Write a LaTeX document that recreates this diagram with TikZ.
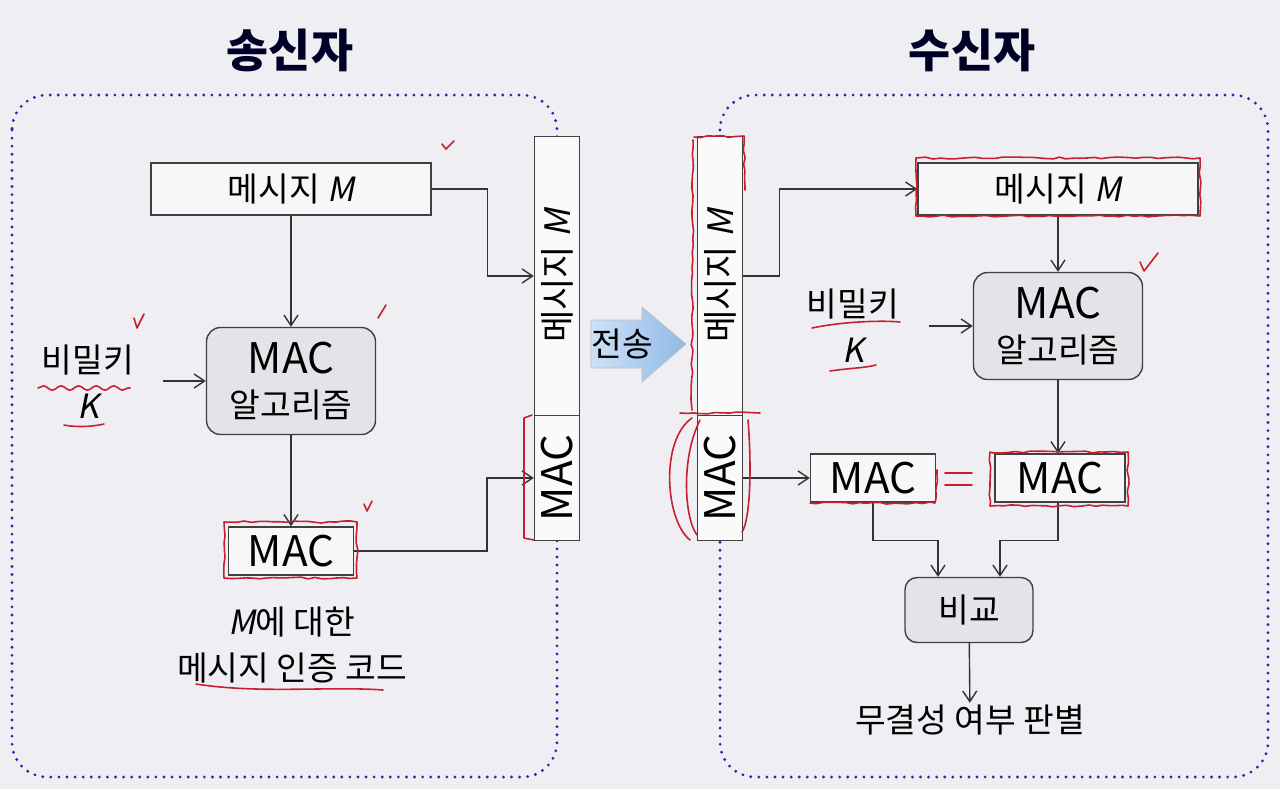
\documentclass[tikz,border=0pt]{standalone}
\usepackage{fontspec}
\setmainfont{Noto Sans CJK KR}[ItalicFont={Noto Sans CJK KR}, ItalicFeatures={FakeSlant=0.2}]
\usetikzlibrary{arrows.meta, decorations.pathmorphing}

\definecolor{bgpaper}{RGB}{238,238,243}
\definecolor{dotblue}{RGB}{40,40,170}
\definecolor{boxgray}{RGB}{227,227,232}
\definecolor{inkred}{RGB}{200,30,45}
\definecolor{sendA}{RGB}{205,225,246}
\definecolor{sendB}{RGB}{145,185,230}

\newcommand{\mac}{{\fontsize{24}{25}\selectfont MAC}}

\tikzset{
  conn/.style={draw=black!80, line width=0.8pt, -{Straight Barb[length=6pt, width=8pt]}},
  msgbox/.style={draw=black!75, line width=0.8pt, fill=white!55!bgpaper, minimum width=5.6cm, minimum height=1.04cm, font=\fontsize{19}{23}\selectfont, inner sep=0pt},
  algbox/.style={draw=black!75, line width=0.8pt, fill=boxgray, rounded corners=0.28cm, minimum width=3.38cm, minimum height=2.14cm, align=center, font=\fontsize{19}{25}\selectfont},
  macbox/.style={msgbox, minimum width=2.5cm, minimum height=0.96cm},
  barpart/.style={draw=black!75, line width=0.8pt, fill=white!70!bgpaper, rotate=90, minimum height=0.9cm, inner sep=0pt, font=\fontsize{20}{23}\selectfont},
  txt/.style={align=center, font=\fontsize{19}{26}\selectfont, inner sep=1pt},
  title/.style={font=\fontsize{26}{30}\selectfont\bfseries, text=black!85!blue},
  region/.style={draw=dotblue, line width=1.8pt, dash pattern=on 0pt off 4.6pt, line cap=round, rounded corners=0.7cm},
  redmark/.style={draw=inkred, line width=0.9pt, line cap=round, line join=round},
  rough/.style={redmark, decorate, decoration={random steps, segment length=4pt, amplitude=0.6pt}},
}

\begin{document}
\begin{tikzpicture}[x=0.02cm, y=-0.02cm]
\fill[bgpaper] (0,0) rectangle (1280,789);
\useasboundingbox (0,0) rectangle (1280,789);

% 제목
\node[title] (stitle) at (290,50) {송신자};
\node[title] (rtitle) at (972,50) {수신자};

% 점선 영역
\draw[region] (12,95) rectangle (557,777);
\draw[region] (720,95) rectangle (1268,777);

% 송신자
\node[msgbox] (smsg) at (291,189) {메시지 \textit{M}};
\node[algbox] (salg) at (291,381) {\mac\\알고리즘};
\node[macbox] (smac) at (291,551) {\mac};
\node[txt] (skey) at (88,382) {비밀키\\\textit{K}};
\node[txt] (scap) at (292,645) {\textit{M}에 대한\\메시지 인증 코드};

\node[barpart, minimum width=5.58cm] (sbarm) at (557,276) {메시지 \textit{M}};
\node[barpart, minimum width=2.5cm] (sbarc) at (557,478) {\mac};

\draw[conn] (smsg) -- (salg);
\draw[conn] (salg) -- (smac);
\draw[conn, shorten <=0.54cm] (skey.east |- salg) -- (salg.west);
\draw[conn] (smsg.east) -- ++(56,0) |- (sbarm.north);
\draw[conn] (smac.east) -- ++(133,0) |- (sbarc.north);

% 전송
\shade[left color=sendA, right color=sendB, draw=black!25, line width=0.4pt]
  (591,320) -- (642,320) -- (642,307) -- (686,344) -- (642,382) -- (642,368) -- (591,368) -- cycle;
\node[font=\fontsize{19}{23}\selectfont, inner sep=0pt] (send) at (622,344) {전송};

% 수신자
\node[barpart, minimum width=5.58cm] (rbarm) at (720,276) {메시지 \textit{M}};
\node[barpart, minimum width=2.5cm] (rbarc) at (720,478) {\mac};

\node[msgbox] (rmsg) at (1058,189) {메시지 \textit{M}};
\node[algbox] (ralg) at (1058,326) {\mac\\알고리즘};
\node[txt] (rkey) at (853,326) {비밀키\\\textit{K}};
\node[macbox] (rmac) at (873,478) {\mac};
\node[macbox, minimum width=2.6cm] (cmac) at (1060,478) {\mac};
\node[algbox, minimum width=2.56cm, minimum height=1.3cm, rounded corners=0.24cm] (cmp) at (969,610) {비교};
\node[txt] (verdict) at (970,720) {무결성 여부 판별};

\draw[conn] (rbarm.south) -- ++(36,0) |- (rmsg.west);
\draw[conn] (rmsg) -- (ralg);
\draw[conn, shorten <=0.56cm] (rkey.east |- ralg) -- (ralg.west);
\draw[conn] (ralg.south) -- (ralg.south |- cmac.north);
\draw[conn] (rbarc.south) -- (rmac.west);
\draw[conn] (rmac.south) -- ++(0,38) -| ([xshift=-0.62cm]cmp.north);
\draw[conn] (cmac.south -| ralg.south) -- ++(0,38) -| ([xshift=0.62cm]cmp.north);
\draw[conn] (cmp) -- (verdict);

% 빨간 표시
\draw[rough] (224,522) rectangle (357,578);
\draw[rough] (916,158) rectangle (1200,216);
\draw[rough] (990,452) rectangle (1128,506);
\draw[rough] (810,503) -- (935,503) -- (937,470);
\draw[rough] (694,137) -- (744,136) -- (745,190);
\draw[rough] (693,140) -- (692,410);
\draw[rough] (680,413) -- (760,413);
\draw[redmark] (692,418) .. controls (660,440) and (665,520) .. (690,540);
\draw[redmark] (700,420) .. controls (680,460) and (685,520) .. (697,535);
\draw[redmark] (748,420) .. controls (752,470) and (750,520) .. (742,532);
\draw[redmark] (532,415) -- (524,418) -- (524,538) -- (534,540);
\draw[redmark] (945,473) -- (972,473) (945,485) -- (972,485);
% 밑줄
\draw[redmark, decorate, decoration={snake, segment length=10pt, amplitude=1.2pt}] (38,388) -- (130,388);
\draw[redmark] (64,425) .. controls (80,428) and (95,426) .. (104,424);
\draw[redmark] (196,684) .. controls (260,694) and (330,686) .. (383,690);
\draw[redmark] (812,328) .. controls (840,322) and (880,320) .. (900,322);
\draw[redmark] (830,371) .. controls (850,368) and (865,368) .. (876,365);
% 체크
\draw[redmark] (442,144) -- (446,149) -- (454,141);
\draw[redmark] (378,318) -- (386,305);
\draw[redmark] (134,318) -- (137,328) -- (144,314);
\draw[redmark] (364,504) -- (367,511) -- (372,501);
\draw[redmark] (1140,262) -- (1144,271) -- (1158,253);
\end{tikzpicture}
\end{document}
